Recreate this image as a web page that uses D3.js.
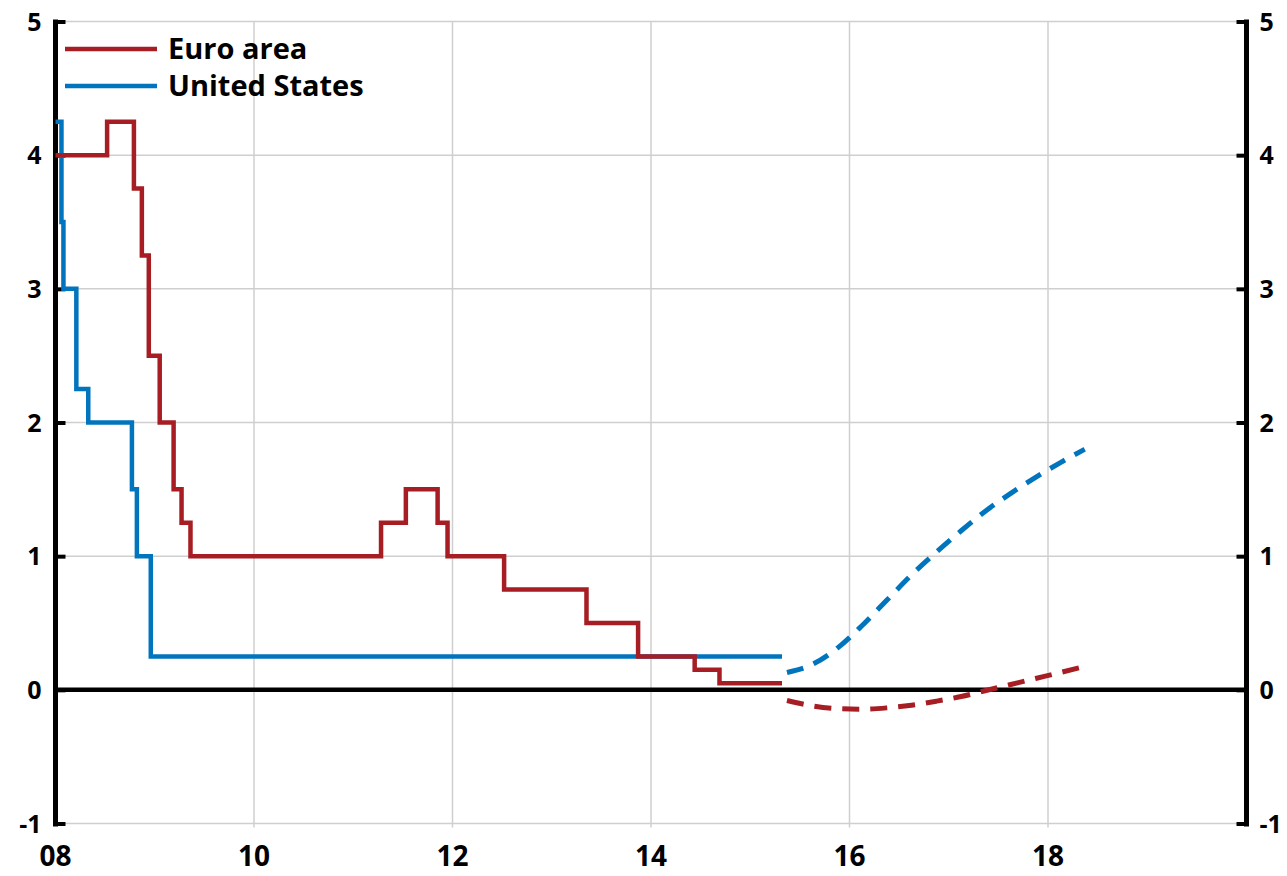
<!DOCTYPE html>
<html><head><meta charset="utf-8">
<script src="https://cdn.jsdelivr.net/npm/d3@7"></script>
<style>
html,body{margin:0;padding:0;background:#fff;}
svg{display:block;}
text{font-family:"Open Sans","Noto Sans",sans-serif;font-weight:700;fill:#000;}
</style></head>
<body>
<svg id="chart" width="1287" height="876"></svg>
<script>
// ---- data ----
const seriesNames = ["Euro area", "United States"];
const seriesColors = ["#A61E24", "#0075BE"];
// step series: [year-fraction, rate] (value holds from this date until next)
const euroDates = [2008.0, 2008.52, 2008.79, 2008.87, 2008.94, 2009.05, 2009.19, 2009.27, 2009.36, 2011.28, 2011.53, 2011.85, 2011.95, 2012.52, 2013.35, 2013.87, 2014.44, 2014.69, 2015.32];
const euroRates = [4.00, 4.25, 3.75, 3.25, 2.50, 2.00, 1.50, 1.25, 1.00, 1.25, 1.50, 1.25, 1.00, 0.75, 0.50, 0.25, 0.15, 0.05, 0.05];
const usDates = [2008.0, 2008.06, 2008.08, 2008.21, 2008.33, 2008.77, 2008.82, 2008.96, 2015.32];
const usRates = [4.25, 3.50, 3.00, 2.25, 2.00, 1.50, 1.00, 0.25, 0.25];
// market-implied forward paths (dashed)
const fwdDates = [2015.37, 2015.625, 2015.875, 2016.125, 2016.375, 2016.625, 2016.875, 2017.125, 2017.375, 2017.625, 2017.875, 2018.125, 2018.37];
const euroFwd = [-0.08, -0.12, -0.14, -0.145, -0.135, -0.115, -0.085, -0.05, -0.005, 0.04, 0.085, 0.13, 0.175];
const usFwd = [0.13, 0.19, 0.31, 0.48, 0.67, 0.86, 1.03, 1.19, 1.34, 1.47, 1.59, 1.70, 1.80];
const yTicks = [-1, 0, 1, 2, 3, 4, 5];
const xTicks = [2008, 2010, 2012, 2014, 2016, 2018];
const xTickLabels = ["08", "10", "12", "14", "16", "18"];

// ---- layout ----
const svg = d3.select("#chart");
const x = d3.scaleLinear().domain([2008, 2020]).range([55.5, 1246.5]);
const y = d3.scaleLinear().domain([-1, 5]).range([823.5, 21.5]);

// grid
const grid = svg.append("g");
grid.selectAll("line.h").data(yTicks).join("line")
  .attr("x1", x(2008)).attr("x2", x(2020))
  .attr("y1", d => y(d)).attr("y2", d => y(d))
  .attr("stroke", "#cfcfcf").attr("stroke-width", 1.5);
grid.selectAll("line.v").data(xTicks.filter(d => d > 2008)).join("line")
  .attr("x1", d => x(d)).attr("x2", d => x(d))
  .attr("y1", y(5)).attr("y2", y(-1) + 4)
  .attr("stroke", "#cfcfcf").attr("stroke-width", 1.5);

// axes
const leftAxis = d3.axisRight(y).tickValues(yTicks).tickSize(10).tickFormat("");
const rightAxis = d3.axisLeft(y).tickValues(yTicks).tickSize(10).tickFormat("");
const gl = svg.append("g").attr("transform", `translate(${x(2008)},0)`).call(leftAxis);
const gr = svg.append("g").attr("transform", `translate(${x(2020)},0)`).call(rightAxis);
[gl, gr].forEach(g => {
  g.select(".domain").remove();
  g.selectAll(".tick line").attr("stroke", "#000").attr("stroke-width", 4);
});
svg.append("line").attr("x1", x(2008)).attr("x2", x(2008)).attr("y1", y(5) - 2).attr("y2", y(-1) + 3)
  .attr("stroke", "#000").attr("stroke-width", 5);
svg.append("line").attr("x1", x(2020)).attr("x2", x(2020)).attr("y1", y(5) - 2).attr("y2", y(-1) + 3)
  .attr("stroke", "#000").attr("stroke-width", 5);

// y labels
svg.append("g").selectAll("text").data(yTicks).join("text")
  .attr("x", x(2008) - 14).attr("y", d => y(d)).attr("dy", "0.36em")
  .attr("text-anchor", "end").attr("font-size", 25).text(d => d);
svg.append("g").selectAll("text").data(yTicks).join("text")
  .attr("x", x(2020) + 13).attr("y", d => y(d)).attr("dy", "0.36em")
  .attr("text-anchor", "start").attr("font-size", 25).text(d => d);
// x labels
svg.append("g").selectAll("text").data(xTicks).join("text")
  .attr("x", d => x(d)).attr("y", 866)
  .attr("text-anchor", "middle").attr("font-size", 28).text((d, i) => xTickLabels[i]);

// zero line
svg.append("line").attr("x1", x(2008)).attr("x2", x(2020)).attr("y1", y(0)).attr("y2", y(0))
  .attr("stroke", "#000").attr("stroke-width", 4.5);

// series
const stepLine = d3.line().curve(d3.curveStepAfter).x(d => x(d[0])).y(d => y(d[1]));
const smoothLine = d3.line().curve(d3.curveMonotoneX).x(d => x(d[0])).y(d => y(d[1]));
const euro = euroDates.map((d, i) => [d, euroRates[i]]);
const us = usDates.map((d, i) => [d, usRates[i]]);
const euroF = fwdDates.map((d, i) => [d, euroFwd[i]]);
const usF = fwdDates.map((d, i) => [d, usFwd[i]]);

svg.append("path").attr("d", stepLine(us)).attr("fill", "none")
  .attr("stroke", seriesColors[1]).attr("stroke-width", 4.5);
svg.append("path").attr("d", stepLine(euro)).attr("fill", "none")
  .attr("stroke", seriesColors[0]).attr("stroke-width", 4.5);
svg.append("path").attr("d", smoothLine(usF)).attr("fill", "none")
  .attr("stroke", seriesColors[1]).attr("stroke-width", 5).attr("stroke-dasharray", "17,11");
svg.append("path").attr("d", smoothLine(euroF)).attr("fill", "none")
  .attr("stroke", seriesColors[0]).attr("stroke-width", 5).attr("stroke-dasharray", "17,11");

// legend
const leg = svg.append("g");
seriesNames.forEach((name, i) => {
  const ly = 49 + i * 37;
  leg.append("line").attr("x1", 65).attr("x2", 157).attr("y1", ly).attr("y2", ly)
    .attr("stroke", seriesColors[i]).attr("stroke-width", 4.5);
  leg.append("text").attr("x", 168).attr("y", ly).attr("dy", "0.36em")
    .attr("font-size", 29).text(name);
});
</script>
</body></html>
